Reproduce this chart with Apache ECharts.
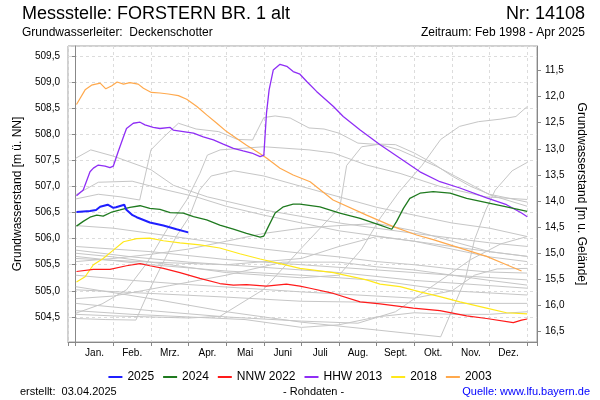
<!DOCTYPE html>
<html>
<head>
<meta charset="utf-8">
<script src="https://cdn.jsdelivr.net/npm/echarts@6/dist/echarts.min.js"></script>
<style>
html,body{margin:0;padding:0;background:#fff;}
#chart{width:600px;height:400px;}
</style>
</head>
<body>
<div id="chart"></div>
<script>
// ---------- data (x = month position, 0 = 1 Jan, 12 = 31 Dec; y = level in m ü. NN) ----------
const months = ['Jan.','Feb.','Mrz.','Apr.','Mai','Juni','Juli','Aug.','Sept.','Okt.','Nov.','Dez.'];
const leftTicks = [504.5,505.0,505.5,506.0,506.5,507.0,507.5,508.0,508.5,509.0,509.5];
const groundLevel = 520.72; // Geländehöhe: right axis = groundLevel - level

const y2025 = [[0.02,506.51],[0.38,506.53],[0.54,506.55],[0.65,506.61],[0.85,506.65],[1.0,506.59],[1.07,506.6],[1.29,506.65],[1.34,506.56],[1.51,506.45],[1.62,506.41],[1.97,506.31],[2.33,506.25],[2.68,506.18],[2.99,506.12]];
const y2024 = [[0.02,506.24],[0.2,506.33],[0.38,506.41],[0.56,506.45],[0.73,506.43],[0.96,506.51],[1.18,506.55],[1.44,506.6],[1.71,506.63],[1.97,506.58],[2.24,506.56],[2.51,506.5],[2.86,506.49],[3.13,506.42],[3.48,506.36],[3.83,506.26],[4.19,506.18],[4.54,506.1],[4.9,506.03],[5.0,506.05],[5.12,506.23],[5.3,506.49],[5.52,506.61],[5.78,506.66],[5.96,506.66],[6.49,506.61],[7.02,506.49],[7.56,506.39],[8.09,506.26],[8.4,506.18],[8.53,506.33],[8.71,506.58],[8.88,506.77],[9.15,506.87],[9.5,506.9],[9.95,506.87],[10.39,506.77],[10.92,506.69],[11.45,506.61],[12.0,506.52]];
const nnw2022 = [[0.02,505.37],[0.47,505.41],[0.91,505.41],[1.35,505.48],[1.71,505.52],[1.97,505.48],[2.33,505.43],[2.77,505.35],[3.3,505.24],[3.83,505.14],[4.19,505.11],[4.54,505.12],[5.07,505.09],[5.6,505.13],[5.96,505.09],[6.23,505.05],[6.85,504.95],[7.56,504.79],[8.09,504.75],[8.97,504.67],[9.68,504.62],[10.39,504.52],[10.92,504.47],[11.63,504.39],[11.85,504.44],[12.0,504.46]];
const hhw2013 = [[0.02,506.82],[0.2,506.93],[0.38,507.28],[0.47,507.35],[0.6,507.41],[0.78,507.39],[0.91,507.36],[1.0,507.39],[1.13,507.67],[1.27,507.95],[1.35,508.11],[1.53,508.21],[1.71,508.23],[1.84,508.18],[2.06,508.13],[2.24,508.11],[2.51,508.13],[2.59,508.08],[2.86,508.05],[3.13,508.02],[3.39,507.95],[3.66,507.89],[3.92,507.81],[4.19,507.73],[4.45,507.68],[4.68,507.64],[4.9,507.57],[5.0,507.6],[5.07,508.4],[5.14,508.85],[5.25,509.23],[5.43,509.34],[5.61,509.3],[5.78,509.2],[5.96,509.15],[6.14,509.01],[6.4,508.82],[6.85,508.53],[7.11,508.34],[7.56,508.08],[8.09,507.8],[8.62,507.54],[9.15,507.28],[9.68,507.09],[10.21,506.97],[10.92,506.78],[11.45,506.65],[11.85,506.49],[12.0,506.42]];
const y2018 = [[0.02,505.17],[0.25,505.27],[0.47,505.5],[0.73,505.62],[1.0,505.78],[1.27,505.94],[1.62,506.0],[1.97,506.01],[2.33,505.96],[2.77,505.92],[3.3,505.88],[3.83,505.82],[4.36,505.71],[4.9,505.61],[5.43,505.52],[5.96,505.43],[6.85,505.35],[7.73,505.21],[8.09,505.13],[8.62,505.08],[9.15,504.98],[9.68,504.89],[10.21,504.79],[10.92,504.67],[11.45,504.58],[12.0,504.56]];
const y2003 = [[0.02,508.57],[0.25,508.85],[0.42,508.94],[0.65,508.98],[0.8,508.87],[0.96,508.93],[1.1,509.0],[1.27,508.96],[1.44,508.99],[1.66,508.96],[1.8,508.88],[2.01,508.8],[2.24,508.79],[2.46,508.77],[2.73,508.74],[2.95,508.67],[3.22,508.53],[3.48,508.37],[3.75,508.21],[4.01,508.05],[4.28,507.92],[4.54,507.79],[4.81,507.67],[5.08,507.54],[5.43,507.35],[5.78,507.22],[6.23,507.09],[6.84,506.74],[7.73,506.45],[8.44,506.23],[9.06,506.07],[9.5,505.98],[10.39,505.78],[10.92,505.66],[11.45,505.5],[11.85,505.38]];

// other years (grey)
const grayA = [[0,507.54],[0.4,507.7],[1,507.58],[2,507.32],[2.6,507.02],[3.5,506.8],[5,506.55],[7,506.3],[9,506.1],[11,505.92],[12,505.85]];
const grayB = [[0,506.76],[0.6,506.85],[1.2,506.8],[1.7,506.74],[2.0,507.7],[2.3,507.92],[2.73,508.21],[3.2,508.1],[3.8,508.05],[4.3,507.9],[4.7,507.89],[5.0,508.32],[5.3,508.35],[5.7,508.31],[6.2,508.12],[6.6,508.1],[7.0,508.02],[7.5,507.83],[8.1,507.8],[8.6,507.7],[9.1,507.54],[9.6,507.38],[10.1,507.19],[10.6,507.0],[11.0,506.84],[12,506.62]];
const grayC = [[0,506.84],[0.6,507.08],[1.5,507.1],[2.3,506.95],[3.2,506.8],[4,506.62],[5,506.45],[6,506.3],[7,506.15],[8,506.05],[9,505.95],[10,505.85],[11,505.75],[12,505.66]];
const grayD = [[0,504.55],[1,504.52],[2,504.5],[3,504.48],[3.83,504.51],[4.98,505.02],[6.04,505.85],[7.02,506.6],[7.2,507.4],[7.6,507.76],[8.1,507.81],[8.5,507.8],[9.0,507.64],[9.5,507.44],[10,507.2],[10.5,507.0],[11,506.85],[12,506.7]];
const grayE = [[0,505.72],[1,505.65],[2,505.55],[3,505.45],[4,505.35],[5,505.3],[6,505.25],[7,505.3],[7.6,505.8],[8.1,506.4],[8.6,506.9],[9.2,507.4],[9.7,507.9],[10.2,508.15],[10.7,508.24],[11.3,508.29],[11.7,508.34],[12,508.53]];
const grayF = [[0,505.08],[2,504.85],[4,504.6],[6,504.4],[8,504.25],[9.7,504.12],[10.35,505.21],[10.6,505.98],[10.9,506.55],[11.15,506.93],[11.6,507.3],[12,507.46]];
const grayG = [[0,504.57],[0.7,504.75],[1.35,505.02],[1.89,505.53],[2.42,506.17],[2.95,506.74],[3.3,507.25],[3.5,507.6],[3.84,507.7],[5,507.76],[6.2,507.7],[6.85,507.64],[7.73,507.41],[8.62,507.25],[9.68,507.0],[10.9,506.8],[12,506.75]];
const grayH = [[0,504.47],[0.8,504.45],[1.6,504.44],[1.96,505.02],[2.67,506.04],[3.02,506.42],[3.29,506.93],[3.6,507.2],[4.2,507.3],[5,507.2],[6,507.0],[7,506.8],[8,506.6],[9,506.45],[10,506.3],[11,506.2],[12,506.04]];
const grayI = [[0,505.85],[2,505.75],[4,505.6],[6,505.5],[8,505.4],[10,505.3],[12,505.21]];
const grayJ = [[0,505.78],[1.5,505.65],[3,505.55],[5,505.45],[7,505.35],[9,505.2],[12,505.05]];
const grayK = [[0,505.66],[2,505.5],[4,505.38],[6,505.3],[8,505.2],[10,505.0],[12,504.92]];
const grayL = [[0,505.02],[2,504.95],[4,504.88],[6,504.8],[8,504.78],[10,504.76],[12,504.76]];
const grayM = [[0,504.76],[2,504.62],[4,504.5],[6,504.42],[7.5,504.38],[8.5,504.6],[9.5,505.1],[10.5,505.6],[11.3,505.9],[12,506.04]];
const grayN = [[0,505.56],[1,505.62],[2,505.7],[3,505.8],[4,505.95],[5,506.1],[6,506.2],[7,506.25],[8,506.29],[9,506.15],[10,505.95],[11,505.75],[12,505.66]];
const grayO = [[0,505.62],[2,505.55],[4,505.5],[6,505.62],[7,505.85],[8,506.04],[9,505.95],[10,505.8],[11,505.65],[12,505.56]];
const grayP = [[0,504.85],[1,504.9],[2.5,505.1],[4,505.3],[5.5,505.55],[7,505.55],[8,505.46],[9,505.4],[10,505.3],[11,505.2],[12,505.11]];
const grayQ = [[0,505.3],[1.5,505.2],[3,505.12],[4.5,505.05],[6,504.98],[7.5,504.92],[9,504.86],[10,505.0],[10.6,505.3],[11.2,505.42],[12,505.43]];
const grayR = [[0,506.25],[1,506.2],[2,506.1],[3,506.0],[4,505.9],[5,505.8],[6,505.72],[7,505.65],[8,505.56],[9,505.5],[10,505.42],[11,505.36],[12,505.34]];
const grayS = [[0,504.62],[1.5,504.55],[3,504.5],[4.5,504.45],[6,504.3],[7,504.35],[8,504.5],[9,504.58],[10,504.55],[11,504.55],[12,504.6]];

const grayYears = [grayA,grayB,grayC,grayD,grayE,grayF,grayG,grayH,grayI,grayJ,grayK,grayL,grayM,grayN,grayO,grayP,grayQ,grayR,grayS];

const highlighted = [
  {name:'2003',     data:y2003,   color:'#ffa94d', width:1.2},
  {name:'2018',     data:y2018,   color:'#ffe81a', width:1.2},
  {name:'HHW 2013', data:hhw2013, color:'#8f2ef5', width:1.3},
  {name:'NNW 2022', data:nnw2022, color:'#ff1a1a', width:1.2},
  {name:'2024',     data:y2024,   color:'#1f7a1f', width:1.3},
  {name:'2025',     data:y2025,   color:'#1f1fff', width:2}
];
const legendOrder = ['2025','2024','NNW 2022','HHW 2013','2018','2003'];

// ---------- chart ----------
const FONT = '"Liberation Sans", Arial, sans-serif';
const yMin = 504.02, yMax = 509.69;
const fmt = v => v.toFixed(1).replace('.', ',');

const series = [];
grayYears.forEach(d => series.push({
  type:'line', data:d, showSymbol:false, symbol:'none', silent:true,
  lineStyle:{color:'#c6c6c6', width:1}, z:2
}));
highlighted.forEach(h => series.push({
  name:h.name, type:'line', data:h.data, showSymbol:false, symbol:'none', silent:true,
  color:h.color, lineStyle:{color:h.color, width:h.width}, z:3
}));

const chart = echarts.init(document.getElementById('chart'), null, {renderer:'canvas'});
chart.setOption({
  animation:false,
  backgroundColor:'#fff',
  textStyle:{fontFamily:FONT},
  grid:[
    {left:68, right:63, top:46, bottom:58, show:true, borderColor:'#a0a0a0', borderWidth:1},
    {left:75.7, right:72.7, top:46, bottom:58, show:false}
  ],
  xAxis:[
    {gridIndex:0, type:'value', min:-0.205, max:12.26, minInterval:1, maxInterval:1, splitNumber:13,
     axisLine:{show:true, lineStyle:{color:'#888'}},
     axisTick:{show:true, length:4, lineStyle:{color:'#888'}},
     axisLabel:{show:false},
     splitLine:{show:true, lineStyle:{color:'#dcdcdc', type:[3,3]}}},
    {gridIndex:1, type:'category', data:months, boundaryGap:true, position:'bottom',
     axisLine:{show:false}, axisTick:{show:false}, splitLine:{show:false},
     axisLabel:{margin:6, fontSize:10, color:'#000', fontFamily:FONT}}
  ],
  yAxis:[
    {gridIndex:0, type:'value', min:yMin, max:yMax, minInterval:0.5, maxInterval:0.5, splitNumber:11,
     axisLine:{show:true, lineStyle:{color:'#888'}},
     axisTick:{show:true, length:4, lineStyle:{color:'#888'}},
     axisLabel:{formatter:fmt, fontSize:10, color:'#000', margin:8, showMinLabel:false, showMaxLabel:false},
     splitLine:{show:true, lineStyle:{color:'#dcdcdc', type:[3,3]}},
     name:'Grundwasserstand [m ü. NN]', nameLocation:'middle', nameGap:40,
     nameTextStyle:{fontSize:12, color:'#000', fontFamily:FONT}},
    {gridIndex:0, type:'value', position:'right', inverse:true,
     min:groundLevel - yMax, max:groundLevel - yMin, minInterval:0.5, maxInterval:0.5, splitNumber:11,
     axisLine:{show:true, lineStyle:{color:'#888'}},
     axisTick:{show:true, length:4, lineStyle:{color:'#888'}},
     axisLabel:{formatter:fmt, fontSize:10, color:'#000', margin:8, showMinLabel:false, showMaxLabel:false},
     splitLine:{show:false},
     name:'Grundwasserstand [m u. Gelände]', nameLocation:'middle', nameGap:37, nameRotate:-90,
     nameTextStyle:{fontSize:12, color:'#000', fontFamily:FONT}},
    {gridIndex:1, type:'value', show:false}
  ],
  legend:{
    data:legendOrder, top:366, left:'center', icon:'rect', itemWidth:14, itemHeight:2, itemGap:9,
    textStyle:{fontSize:12, color:'#000', fontFamily:FONT}, selectedMode:false
  },
  graphic:[
    {type:'text', left:22, top:5, style:{text:'Messstelle: FORSTERN BR. 1 alt', font:'18px '+FONT, fill:'#000'}},
    {type:'text', right:15, top:5, style:{text:'Nr: 14108', font:'18px '+FONT, fill:'#000'}},
    {type:'text', left:22, top:27, style:{text:'Grundwasserleiter:  Deckenschotter', font:'12px '+FONT, fill:'#000'}},
    {type:'text', right:15, top:27, style:{text:'Zeitraum: Feb 1998 - Apr 2025', font:'12px '+FONT, fill:'#000'}},
    {type:'text', left:20, top:386, style:{text:'erstellt:  03.04.2025', font:'11px '+FONT, fill:'#000'}},
    {type:'text', left:283, top:386, style:{text:'- Rohdaten -', font:'11px '+FONT, fill:'#000'}},
    {type:'text', right:10, top:386, style:{text:'Quelle: www.lfu.bayern.de', font:'11px '+FONT, fill:'#0000ff'}}
  ],
  series:series
});
</script>
</body>
</html>
